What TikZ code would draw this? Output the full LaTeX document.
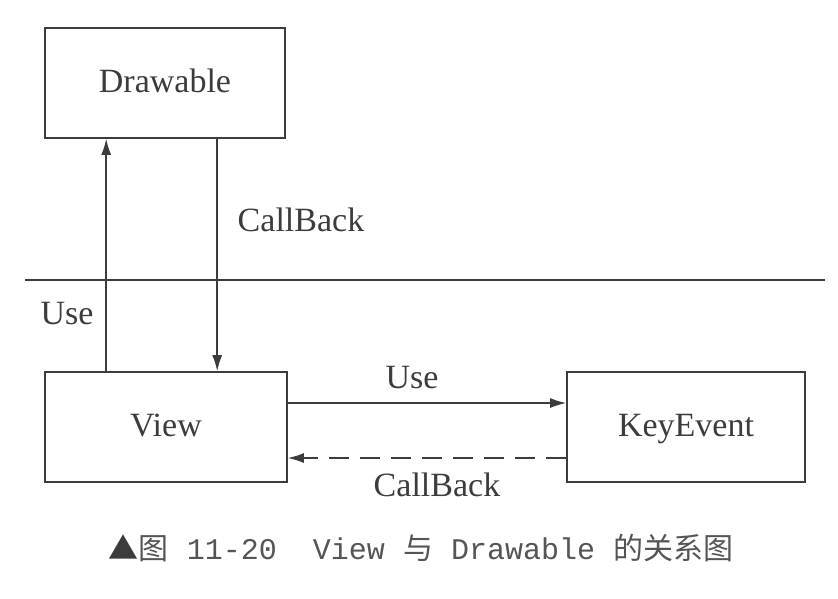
\documentclass[tikz,border=0pt]{standalone}
\usepackage{fontspec}
\setmainfont{Liberation Serif}
\setmonofont{Liberation Mono}
\newfontfamily\cjk{Noto Sans CJK SC}
\usetikzlibrary{arrows.meta}
\definecolor{ink}{HTML}{3C3C3C}
\definecolor{capink}{HTML}{555555}
\newcommand{\msp}{\hspace{0.6em}}
\tikzset{
  box/.style={draw=ink, line width=1.6pt, minimum width=240pt, minimum height=110pt, inner sep=0pt, text height=22pt, text depth=4pt, font=\fontsize{34}{36}\selectfont, text=ink},
  lbl/.style={font=\fontsize{34}{36}\selectfont, text=ink, inner sep=0pt},
  conn/.style={draw=ink, line width=1.6pt, -{Latex[length=16pt,width=10pt]}},
}
\begin{document}
\begin{tikzpicture}[x=1pt,y=-1pt]
\useasboundingbox (0,0) rectangle (838,598);
\node[box] (draw) at (165,83) {Drawable};
\node[box, minimum width=242pt] (view) at (166,427) {View};
\node[box, minimum width=238pt] (key) at (686,427) {KeyEvent};
\coordinate (la) at (25,280);
\coordinate (lb) at (825,280);
\draw[ink, line width=1.6pt] (la) -- (lb);
\draw[conn] (view.south west |- view.north) ++(62,0) coordinate (u0) -- (u0 |- draw.south);
\draw[conn] (draw.south west) ++(173,0) coordinate (d0) -- (d0 |- view.north);
\draw[conn] (view.east) ++(0,-24) coordinate (r0) -- (r0 -| key.west);
\draw[conn, dashed, dash pattern=on 20pt off 11pt] (key.west) ++(0,31) coordinate (k0) -- (k0 -| view.east);
\node[lbl] (cb1) at (301,220) {CallBack};
\node[lbl] (use1) at (67,314) {Use};
\node[lbl] (use2) at (412,378) {Use};
\node[lbl] (cb2) at (437,485) {CallBack};
\node[inner sep=0pt, text=capink, font=\fontsize{30}{32}\selectfont] (cap) at (421,548) {{\cjk\textcolor{ink}{▲}图}\ttfamily\msp 11-20\msp\msp View\msp{\cjk 与}\msp Drawable\msp{\cjk 的关系图}};
\end{tikzpicture}
\end{document}
